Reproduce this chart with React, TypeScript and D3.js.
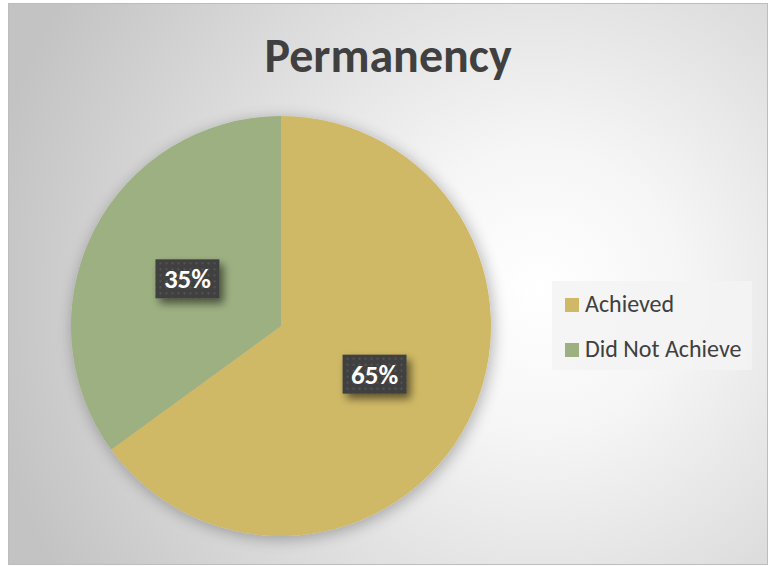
import React from "react";
import * as d3 from "d3";

const categories = ["Achieved", "Did Not Achieve"];
const values = [65, 35];
const colors = ["#CFB966", "#9DB082"];
const title = "Permanency";

const W = 776, H = 566;
const cx = 281, cy = 326, R = 210;

export default function App() {
  const pie = d3.pie<number>().sort(null).value((d) => d)(values);
  const arc = d3.arc<d3.PieArcDatum<number>>().innerRadius(0).outerRadius(R);
  const total = d3.sum(values);
  const font = "Calibri, Carlito, 'Open Sans', 'Liberation Sans', sans-serif";
  return (
    <svg width={W} height={H} style={{ position: "absolute", left: 0, top: 0 }}>
      <defs>
        <radialGradient id="bg" cx="540" cy="290" r="560" gradientUnits="userSpaceOnUse">
          <stop offset="0" stopColor="#ffffff" />
          <stop offset="0.25" stopColor="#f6f6f6" />
          <stop offset="1" stopColor="#c3c3c3" />
        </radialGradient>
        <pattern id="dots" width="6" height="6" patternUnits="userSpaceOnUse">
          <rect width="6" height="6" fill="#3f3f3f" />
          <rect x="2" y="2" width="2" height="2" fill="#555555" />
        </pattern>
        <filter id="sh" x="-30%" y="-30%" width="170%" height="180%">
          <feGaussianBlur in="SourceAlpha" stdDeviation="4" />
          <feOffset dx="4" dy="5" result="b" />
          <feComponentTransfer><feFuncA type="linear" slope="0.55" /></feComponentTransfer>
          <feMerge><feMergeNode /><feMergeNode in="SourceGraphic" /></feMerge>
        </filter>
        <filter id="pieSh" x="-20%" y="-20%" width="140%" height="140%">
          <feGaussianBlur in="SourceAlpha" stdDeviation="8" />
          <feOffset dx="2" dy="3" />
          <feComponentTransfer><feFuncA type="linear" slope="0.3" /></feComponentTransfer>
          <feMerge><feMergeNode /><feMergeNode in="SourceGraphic" /></feMerge>
        </filter>
      </defs>
      <rect x={8.5} y={3.5} width={759} height={561} fill="url(#bg)" stroke="#bdbdbd" strokeWidth={1} />
      <text x={388} y={72} textAnchor="middle" fontFamily={font} fontWeight="bold" fontSize={48} fill="#404040">{title}</text>
      <g transform={`translate(${cx},${cy})`} filter="url(#pieSh)">
        {pie.map((p, i) => (
          <path key={i} d={arc(p) || ""} fill={colors[i]} />
        ))}
      </g>
      <g transform={`translate(${cx},${cy})`}>
        {pie.map((p, i) => {
          const mid = (p.startAngle + p.endAngle) / 2;
          const d = R * 0.5;
          const x = Math.sin(mid) * d;
          const y = -Math.cos(mid) * d;
          const label = `${Math.round((values[i] / total) * 100)}%`;
          return (
            <g key={i} transform={`translate(${x},${y})`}>
              <rect x={-32} y={-19} width={64} height={39} fill="url(#dots)" filter="url(#sh)" />
              <text x={0} y={10} textAnchor="middle" fontFamily={font} fontWeight="bold" fontSize={27} fill="#ffffff">{label}</text>
            </g>
          );
        })}
      </g>
      <rect x={552} y={281} width={200} height={89} fill="#f3f3f3" opacity={0.85} />
      {categories.map((c, i) => (
        <g key={c} transform={`translate(565,${298 + i * 45})`}>
          <rect x={0} y={0} width={14} height={14} fill={colors[i]} />
          <text x={20} y={14} fontFamily={font} fontSize={24} fill="#404040">{c}</text>
        </g>
      ))}
    </svg>
  );
}
